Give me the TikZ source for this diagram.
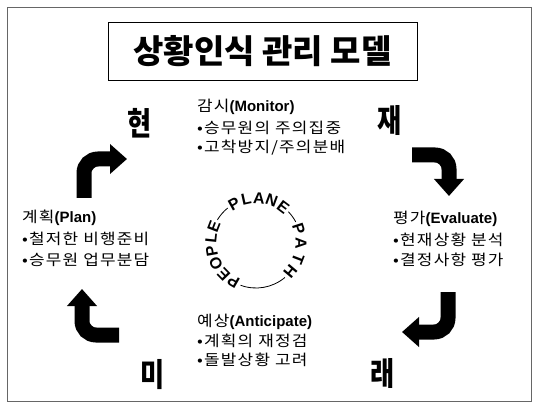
\documentclass[tikz,border=0pt]{standalone}
\usepackage{fontspec}
\setmainfont{Noto Sans CJK KR}
\newfontfamily\lat{Liberation Sans}
\newfontfamily\krs{Noto Sans CJK KR}[FakeStretch=1.13, LetterSpace=8]
\usetikzlibrary{arrows.meta}
\tikzset{
  txt/.style={anchor=west, inner sep=0pt, font=\krs\fontsize{15}{16}\selectfont},
  bigch/.style={inner sep=0pt, xscale=0.82, font=\fontsize{32}{32}\selectfont\bfseries},
  bigarrow/.style={line width=15pt, rounded corners=14pt, -{Triangle[length=17pt,width=29pt]}},
  ring/.style={inner sep=0pt, font=\lat\bfseries\fontsize{16}{16}\selectfont},
  ringline/.style={line width=0.8pt}
}
\newcommand{\lt}[1]{{\lat\bfseries\fontsize{15}{16}\selectfont #1}}
\begin{document}
\begin{tikzpicture}[x=1pt,y=-1pt]
\useasboundingbox (0,0) rectangle (535,403);
\draw[black!60, line width=0.8pt] (7,7) rectangle (531,401);
\node[draw, line width=0.9pt, minimum width=309pt, minimum height=58pt, inner sep=0pt] (title) at (262.5,51) {\fontsize{33}{40}\selectfont\bfseries 상황인식 관리 모델};

% big characters
\node[bigch] (hyeon) at (140,123) {현};
\node[bigch] (jae) at (390,121) {재};
\node[bigch] (mi) at (153,375) {미};
\node[bigch] (rae) at (383,373) {래};

% arrows
\coordinate (a1s) at (84,198); \coordinate (a1c) at (84,159); \coordinate (a1e) at (127,159);
\draw[bigarrow] (a1s) -- (a1c) -- (a1e);
\coordinate (a2s) at (412,155); \coordinate (a2c) at (449,155); \coordinate (a2e) at (449,196);
\draw[bigarrow] (a2s) -- (a2c) -- (a2e);
\coordinate (a3s) at (448,292); \coordinate (a3c) at (448,332); \coordinate (a3e) at (402,332);
\draw[bigarrow] (a3s) -- (a3c) -- (a3e);
\coordinate (a4s) at (119,335); \coordinate (a4c) at (82,335); \coordinate (a4e) at (82,289);
\draw[bigarrow] (a4s) -- (a4c) -- (a4e);

% text blocks
\node[txt] (m1) at (197,107) {감시\lt{(Monitor)}};
\node[txt] (m2) at (197,128) {•승무원의 주의집중};
\node[txt] (m3) at (197,148) {•고착방지/주의분배};
\node[txt] (p1) at (22,218) {계획\lt{(Plan)}};
\node[txt] (p2) at (22,239) {•철저한 비행준비};
\node[txt] (p3) at (22,260) {•승무원 업무분담};
\node[txt] (e1) at (393,219) {평가\lt{(Evaluate)}};
\node[txt] (e2) at (393,240) {•현재상황 분석};
\node[txt] (e3) at (393,260) {•결정사항 평가};
\node[txt] (n1) at (197,322) {예상\lt{(Anticipate)}};
\node[txt] (n2) at (197,341) {•계획의 재정검};
\node[txt] (n3) at (197,360) {•돌발상황 고려};

% ring
\begin{scope}[shift={(256,243)}, x=1pt, y=1pt]
  \foreach \ch/\ang [count=\i] in {P/240, E/224, O/207, P/190, L/174, E/159}
    \node[ring, rotate=\ang-90] (pe\i) at (\ang:45pt) {\ch};
  \foreach \ch/\ang [count=\i] in {P/119, L/102.5, A/86, N/69.5, E/53}
    \node[ring, rotate=\ang-90] (pl\i) at (\ang:45pt) {\ch};
  \foreach \ch/\ang [count=\i] in {P/18, A/-1, T/-21, H/-40}
    \node[ring, rotate=\ang-90] (pa\i) at (\ang:45pt) {\ch};
  \draw[ringline] (149:45pt) arc[start angle=149, end angle=129, radius=45pt];
  \draw[ringline] (44:45pt) arc[start angle=44, end angle=28, radius=45pt];
  \draw[ringline] (-50:45pt) arc[start angle=-50, end angle=-110, radius=45pt];
\end{scope}
\end{tikzpicture}
\end{document}
